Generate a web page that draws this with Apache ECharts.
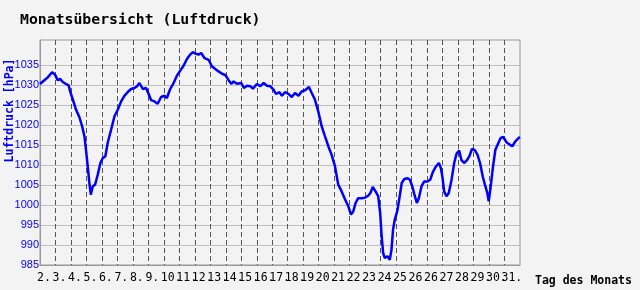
<!DOCTYPE html>
<html>
<head>
<meta charset="utf-8">
<script src="https://cdn.jsdelivr.net/npm/echarts@6/dist/echarts.min.js"></script>
<style>
html,body{margin:0;padding:0;background:#f3f3f3;}
#c{width:640px;height:290px;}
</style>
</head>
<body>
<div id="c"></div>
<script>
// x position in days from the left edge of the plot
var times = [0,0.28,0.5,0.78,0.97,1.14,1.31,1.47,1.68,1.85,1.96,2.11,2.33,2.54,2.72,2.87,2.97,3.08,3.19,3.28,3.41,3.56,3.73,3.9,4.05,4.22,4.37,4.59,4.81,5.02,5.24,5.45,5.67,5.88,6.1,6.27,6.42,6.64,6.85,7.03,7.18,7.39,7.6,7.82,8.04,8.19,8.41,8.63,8.84,9.06,9.27,9.49,9.7,9.87,10.07,10.24,10.41,10.63,10.89,11.1,11.32,11.53,11.79,11.97,12.18,12.35,12.5,12.72,13,13.17,13.37,13.58,13.75,14.01,14.23,14.44,14.66,14.87,15.09,15.24,15.46,15.63,15.83,16.04,16.26,16.47,16.69,16.9,17.12,17.37,17.55,17.76,17.97,18.19,18.4,18.62,18.83,19.05,19.26,19.48,19.69,19.91,20.08,20.23,20.38,20.55,20.76,20.98,21.19,21.34,21.49,21.67,21.84,21.97,22.05,22.16,22.27,22.44,22.59,22.7,22.8,22.91,23.08,23.23,23.36,23.53,23.74,23.89,24.04,24.21,24.34,24.47,24.64,24.82,25.03,25.2,25.37,25.55,25.76,25.89,26,26.1,26.25,26.4,26.58,26.75,26.9,27.07,27.22,27.39,27.58,27.73,27.9,28.08,28.25,28.42,28.59,28.76,28.89,28.98,29.11,29.26,29.41,29.58,29.75,29.92,30.12,30.33,30.5,30.7,30.91,31];
var pressure = [1030.25,1031.2,1031.9,1033.2,1032.6,1031.2,1031.5,1030.75,1030.25,1029.9,1028.2,1026.5,1023.8,1022,1019.7,1017.2,1013.8,1009.7,1005.5,1002.6,1004.7,1005.1,1007.6,1010.5,1011.7,1012.2,1015.5,1018.8,1022.2,1023.8,1025.9,1027.3,1028.25,1029,1029.25,1029.7,1030.5,1029,1029.25,1027.6,1026.2,1025.9,1025.3,1027,1027.3,1026.75,1029,1030.5,1032.3,1033.6,1034.8,1036.5,1037.6,1038.2,1037.8,1037.6,1038,1036.7,1036.3,1034.7,1034,1033.4,1032.75,1032.5,1031.2,1030.3,1030.9,1030.3,1030.5,1029.25,1029.8,1029.7,1029.1,1030.25,1029.7,1030.5,1029.8,1029.7,1028.8,1027.75,1028.2,1027.3,1028.25,1027.8,1027,1028,1027.3,1028.4,1028.7,1029.5,1028,1026.3,1023.4,1019.7,1017.2,1014.7,1012.6,1009.7,1005.1,1003.4,1001.5,999.7,997.6,998.4,1000.5,1001.7,1001.7,1001.8,1002.3,1003,1004.5,1003.4,1002.2,998,993,988,986.75,987.2,986.3,988.8,993.8,996.3,998.6,1002.2,1005.5,1006.5,1006.7,1006.3,1004.7,1002.2,1000.5,1001.75,1004.7,1005.9,1005.9,1006.3,1008.2,1009.5,1010.5,1009.25,1006.75,1003.4,1002.2,1003,1006.3,1010.5,1012.8,1013.6,1011.2,1010.5,1011.2,1012.2,1014,1013.7,1012.6,1010.5,1007.2,1004.7,1003,1000.9,1004.7,1009.7,1013.8,1015.3,1016.75,1017,1015.7,1015.1,1014.7,1015.9,1016.75,1017];
var dayLabels = ['2.','3.','4.','5.','6.','7.','8.','9.','10.','11.','12.','13.','14.','15.','16.','17.','18.','19.','20.','21.','22.','23.','24.','25.','26.','26.','27.','28.','29.','30.','31.'];
var yTicks = [985,990,995,1000,1005,1010,1015,1020,1025,1030,1035];

var data = times.map(function(t,i){return [t, pressure[i]];});
var chart = echarts.init(document.getElementById('c'), null, {renderer:'canvas'});
chart.setOption({
  backgroundColor:'#f3f3f3',
  animation:false,
  title:{text:'Monatsübersicht (Luftdruck)', left:15, top:8,
    textStyle:{fontFamily:'DejaVu Sans Mono', fontWeight:'bold', fontSize:14.8, color:'#000'}},
  grid:{left:40, right:120, top:40, bottom:25, containLabel:false, outerBoundsMode:'none',
    show:true, borderColor:'#999', borderWidth:1, backgroundColor:'transparent'},
  xAxis:{type:'value', min:0, max:31, interval:1,
    name:'Tag des Monats', nameLocation:'end', nameGap:15, nameMoveOverlap:false,
    nameTextStyle:{fontFamily:'DejaVu Sans Mono', fontWeight:'bold', fontSize:11.5, color:'#000', verticalAlign:'top', padding:[10,0,0,0]},
    axisLine:{show:true, lineStyle:{color:'#999'}},
    axisTick:{show:false},
    axisLabel:{fontFamily:'DejaVu Sans Mono', fontSize:11.5, color:'#000', align:'left', margin:7, showMaxLabel:false, hideOverlap:false,
      padding:[0,0,0,-3],
      formatter:function(v){return dayLabels[Math.round(v)] || '';}},
    splitLine:{show:true, showMinLine:false, showMaxLine:false, lineStyle:{color:'#555', type:[5,3], width:1}}
  },
  yAxis:{type:'value', min:985, max:1041.25,
    name:'Luftdruck [hPa]', nameLocation:'middle', nameRotate:90, nameGap:24, nameMoveOverlap:false,
    nameTextStyle:{fontFamily:'DejaVu Sans Mono', fontWeight:'bold', fontSize:11.5, color:'#0000ff', padding:[0,0,0,84]},
    axisLine:{show:true, lineStyle:{color:'#999'}},
    axisTick:{show:false, customValues:yTicks},
    axisLabel:{fontFamily:'Liberation Sans', fontSize:11, color:'#0000ff', margin:1, customValues:yTicks,
      formatter:function(v){return String(v);}},
    splitLine:{show:true, lineStyle:{color:'#c0c0c0', width:1}}
  },
  series:[{type:'line', data:data, showSymbol:false, lineStyle:{color:'#0000ff', width:2.5}, clip:true}]
});
</script>
</body>
</html>
